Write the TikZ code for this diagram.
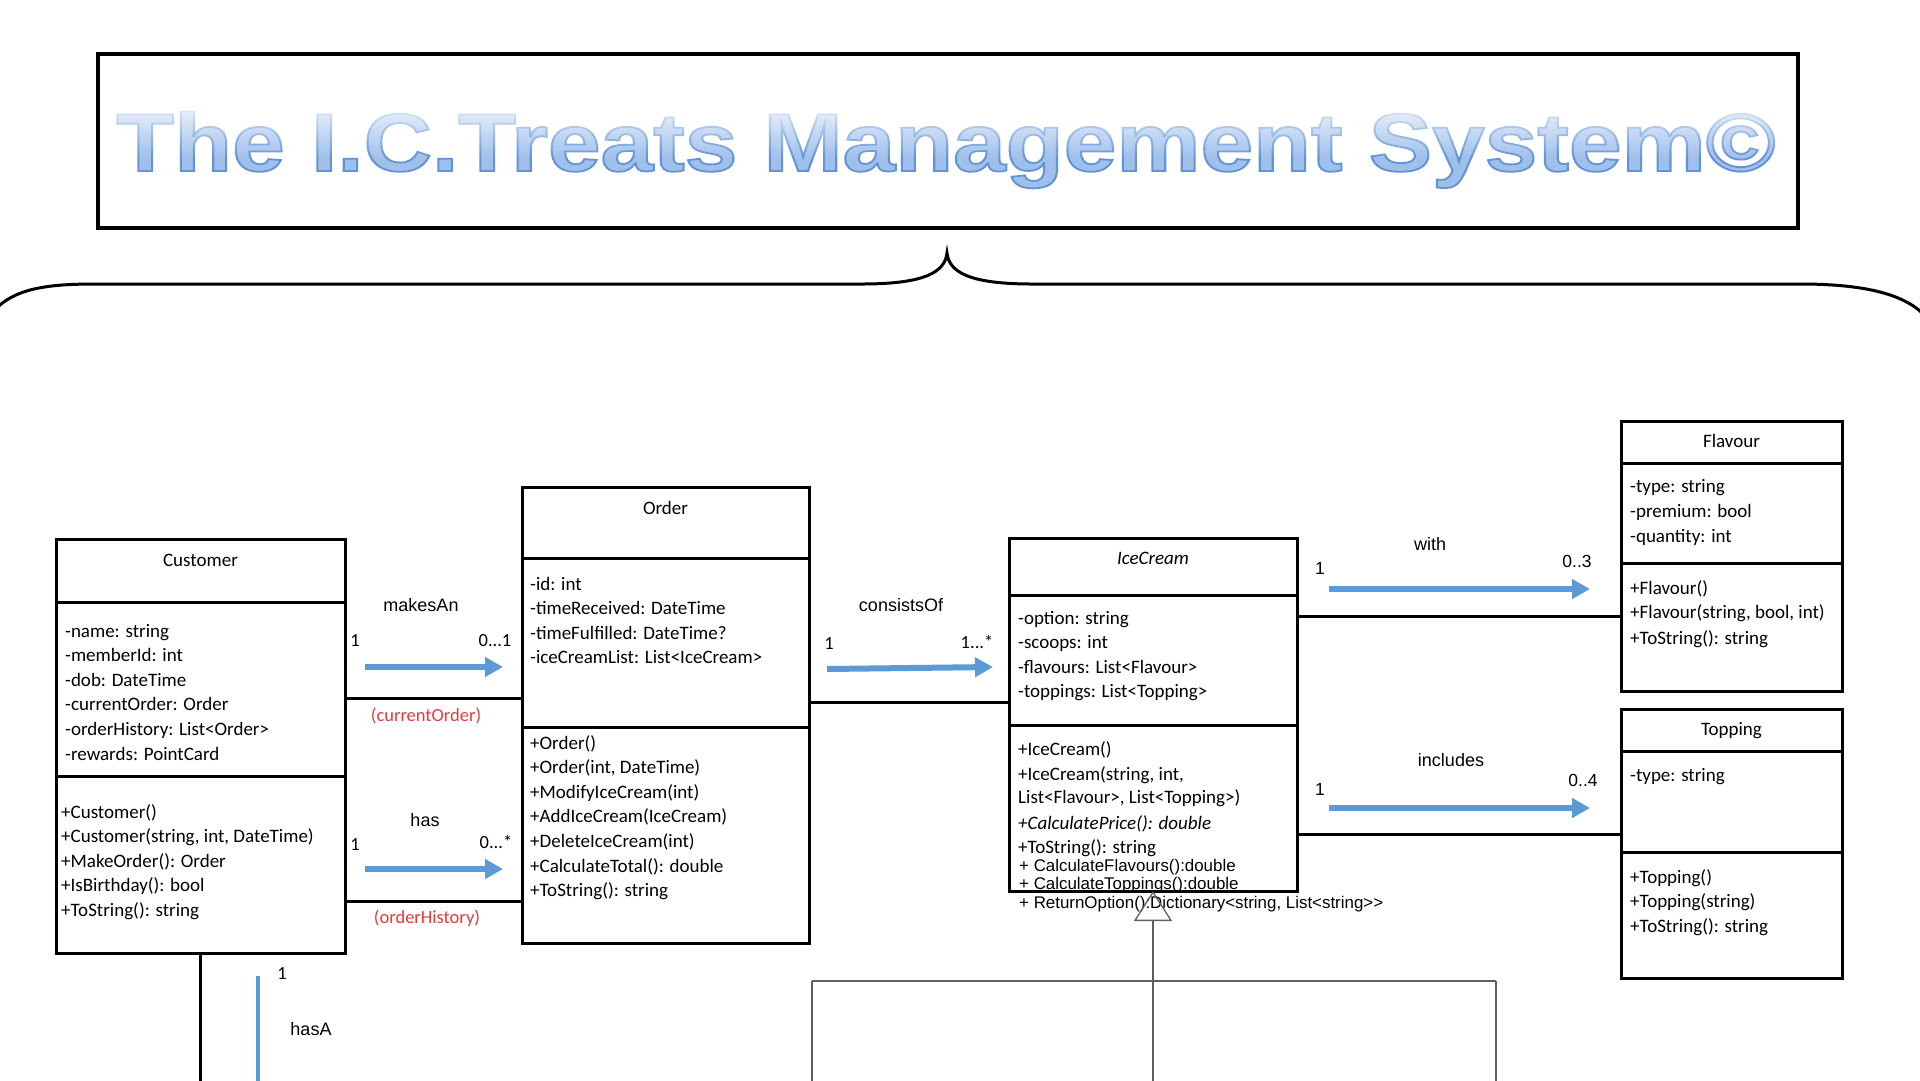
\documentclass[tikz,border=0pt]{standalone}
\usepackage{fontspec}
\usepackage{graphicx}
\setmainfont{Carlito}
\newfontfamily\arialf{Liberation Sans}
\usetikzlibrary{arrows.meta,fadings}
\definecolor{arrblue}{RGB}{91,155,213}
\definecolor{lblred}{RGB}{228,58,58}
\definecolor{tfill}{RGB}{160,192,236}
\definecolor{genc}{RGB}{95,95,95}
\newcommand\titletxt{\scalebox{1.155}[1]{The I.C.Treats Management System©}}
\begin{document}
\begin{tikzpicture}[x=1pt,y=-1pt,
  cls/.style={draw=black,line width=3pt,inner sep=0pt,outer sep=0pt,anchor=north west},
  divider/.style={line width=3pt},
  conn/.style={line width=3pt},
  ln/.style={anchor=base west,inner sep=0pt,font=\fontsize{19}{22}\selectfont},
  clsname/.style={anchor=base,inner sep=0pt,font=\fontsize{19}{22}\selectfont},
  sm/.style={anchor=base west,inner sep=0pt,font=\arialf\fontsize{16.9}{18}\selectfont},
  assoc/.style={line width=6pt,arrblue,-{Triangle[length=18pt,width=19pt]}},
  albl/.style={inner sep=0pt,font=\arialf\fontsize{18}{20}\selectfont,anchor=base},
  mult/.style={inner sep=0pt,font=\fontsize{18.5}{20}\selectfont,anchor=base},
  amult/.style={inner sep=0pt,font=\arialf\fontsize{17.5}{20}\selectfont,anchor=base},
  role/.style={inner sep=0pt,font=\fontsize{18.5}{20}\selectfont,text=lblred,anchor=base},
  titletext/.style={anchor=base,inner sep=0pt,font=\arialf\bfseries\fontsize{82}{90}\selectfont},
  gen/.style={genc,line width=1.3pt}
]
\useasboundingbox (0,0) rectangle (1920,1080);

% ---------- title ----------
\node[draw=black,line width=3.5pt,inner sep=0pt,outer sep=0pt,anchor=north west,
      minimum width=1700pt,minimum height=174pt] (tbox) at (98,54) {};
\node[titletext,text=tfill] (title) at (946,171)
  {\special{pdf:literal direct 2 Tr 1.8 w 0.38 0.58 0.84 RG}\titletxt\special{pdf:literal direct 0 Tr}};
\fill[white,fill opacity=0.85,path fading=south] (104,104) rectangle (1792,158);

% ---------- brace ----------
\draw[line width=3pt,line cap=round]
  (-12,318) .. controls (8,290) and (40,284) .. (95,284) -- (862,284)
  .. controls (925,284) and (945,272) .. (947,253)
  .. controls (949,272) and (969,284) .. (1032,284) -- (1800,284)
  .. controls (1870,284) and (1912,296) .. (1930,322);

% ---------- class boxes ----------
\node[cls,minimum width=289pt,minimum height=414pt] (cust) at (56,539) {};
\draw[divider] (cust.west |- 0,602) -- (cust.east |- 0,602);
\draw[divider] (cust.west |- 0,776) -- (cust.east |- 0,776);
\node[clsname] (custn) at (200.5,566) {Customer};
\foreach \y/\t [count=\k] in {637/{-name: string},661.6/{-memberId: int},686.2/{-dob: DateTime},
  710.8/{-currentOrder: Order},735.4/{-orderHistory: List<Order>},760/{-rewards: PointCard}}{
  \node[ln] (ca\k) at (65,\y) {\t};
}
\foreach \y/\t [count=\k] in {818/{+Customer()},842.6/{+Customer(string, int, DateTime)},
  867.2/{+MakeOrder(): Order},891.8/{+IsBirthday(): bool},916.4/{+ToString(): string}}{
  \node[ln] (cm\k) at (61,\y) {\t};
}

\node[cls,minimum width=287pt,minimum height=456pt] (order) at (522,487) {};
\draw[divider] (order.west |- 0,558) -- (order.east |- 0,558);
\draw[divider] (order.west |- 0,727) -- (order.east |- 0,727);
\node[clsname] (ordern) at (665.5,514) {Order};
\foreach \y/\t [count=\k] in {590/{-id: int},614.6/{-timeReceived: DateTime},
  639.2/{-timeFulfilled: DateTime?},663.8/{-iceCreamList: List<IceCream>}}{
  \node[ln] (oa\k) at (530,\y) {\t};
}
\foreach \y/\t [count=\k] in {749/{+Order()},773.6/{+Order(int, DateTime)},798.2/{+ModifyIceCream(int)},
  822.8/{+AddIceCream(IceCream)},847.4/{+DeleteIceCream(int)},872/{+CalculateTotal(): double},
  896.6/{+ToString(): string}}{
  \node[ln] (om\k) at (530,\y) {\t};
}

\node[cls,minimum width=288pt,minimum height=353pt] (ic) at (1009,538) {};
\draw[divider] (ic.west |- 0,595) -- (ic.east |- 0,595);
\draw[divider] (ic.west |- 0,725) -- (ic.east |- 0,725);
\node[clsname,font=\itshape\fontsize{19}{22}\selectfont] (icn) at (1153,564) {IceCream};
\foreach \y/\t [count=\k] in {624/{-option: string},648.6/{-scoops: int},
  673.2/{-flavours: List<Flavour>},697.8/{-toppings: List<Topping>}}{
  \node[ln] (ia\k) at (1018,\y) {\t};
}
\node[ln] (im1) at (1018,755) {+IceCream()};
\node[ln] (im2) at (1018,780) {+IceCream(string, int,};
\node[ln] (im3) at (1018,803.5) {List<Flavour>, List<Topping>)};
\node[ln,font=\itshape\fontsize{19}{22}\selectfont] (im4) at (1018,829) {+CalculatePrice(): double};
\node[ln] (im5) at (1018,853.5) {+ToString(): string};
\node[sm] (im6) at (1019,871) {+ CalculateFlavours():double};
\node[sm] (im7) at (1019,889.5) {+ CalculateToppings():double};
\node[sm] (im8) at (1019,908) {+ ReturnOption():Dictionary<string, List<string>>};

\node[cls,minimum width=221pt,minimum height=270pt] (flav) at (1621,421) {};
\draw[divider] (flav.west |- 0,463) -- (flav.east |- 0,463);
\draw[divider] (flav.west |- 0,563) -- (flav.east |- 0,563);
\node[clsname] (flavn) at (1731.5,447) {Flavour};
\foreach \y/\t [count=\k] in {492/{-type: string},517/{-premium: bool},542/{-quantity: int}}{
  \node[ln] (fa\k) at (1630,\y) {\t};
}
\foreach \y/\t [count=\k] in {594/{+Flavour()},618.5/{+Flavour(string, bool, int)},644/{+ToString(): string}}{
  \node[ln] (fm\k) at (1630,\y) {\t};
}

\node[cls,minimum width=221pt,minimum height=269pt] (top) at (1621,709) {};
\draw[divider] (top.west |- 0,751) -- (top.east |- 0,751);
\draw[divider] (top.west |- 0,852) -- (top.east |- 0,852);
\node[clsname] (topn) at (1731.5,735) {Topping};
\node[ln] (ta1) at (1630,781) {-type: string};
\foreach \y/\t [count=\k] in {883/{+Topping()},907.5/{+Topping(string)},932/{+ToString(): string}}{
  \node[ln] (tm\k) at (1630,\y) {\t};
}

% ---------- connectors ----------
\draw[conn] (cust.east |- 0,698) -- (order.west |- 0,698);
\draw[conn] (cust.east |- 0,901) -- (order.west |- 0,901);
\draw[conn] (order.east |- 0,702) -- (ic.west |- 0,702);
\draw[conn] (ic.east |- 0,616) -- (flav.west |- 0,616);
\draw[conn] (ic.east |- 0,834) -- (top.west |- 0,834);
\coordinate (custdown) at (200.5,1082);
\draw[conn] (cust.south) -- (custdown);

% ---------- association arrows and labels ----------
\coordinate (a1s) at (365,667); \coordinate (a1e) at (503,667);
\draw[assoc] (a1s) -- (a1e);
\node[albl] (l1) at (421,611) {makesAn};
\node[mult] (m1a) at (355,646) {1};
\node[mult] (m1b) at (495,646) {0...1};
\node[role] (r1) at (426,721) {(currentOrder)};

\coordinate (a2s) at (365,869); \coordinate (a2e) at (503,869);
\draw[assoc] (a2s) -- (a2e);
\node[albl] (l2) at (425,826) {has};
\node[mult] (m2a) at (355,850) {1};
\node[mult] (m2b) at (496,848) {0...*};
\node[role] (r2) at (427,923) {(orderHistory)};

\coordinate (a3s) at (827,669); \coordinate (a3e) at (993,667);
\draw[assoc] (a3s) -- (a3e);
\node[albl] (l3) at (901,611) {consistsOf};
\node[mult] (m3a) at (829,649) {1};
\node[mult] (m3b) at (977,648) {1...*};

\coordinate (a4s) at (1329,589); \coordinate (a4e) at (1590,589);
\draw[assoc] (a4s) -- (a4e);
\node[albl] (l4) at (1430,550) {with};
\node[amult] (m4a) at (1320,574) {1};
\node[amult] (m4b) at (1577,567) {0..3};

\coordinate (a5s) at (1329,808); \coordinate (a5e) at (1590,808);
\draw[assoc] (a5s) -- (a5e);
\node[albl] (l5) at (1451,766) {includes};
\node[amult] (m5a) at (1320,795) {1};
\node[amult] (m5b) at (1583,786) {0..4};

\coordinate (a6s) at (258,976); \coordinate (a6e) at (258,1082);
\draw[line width=4pt,arrblue] (a6s) -- (a6e);
\node[mult] (m6) at (282,979) {1};
\node[albl] (l6) at (311,1035) {hasA};

% ---------- generalisation ----------
\coordinate (gbot) at (1153,1082);
\coordinate (gl) at (812,981); \coordinate (gr) at (1496,981);
\coordinate (glb) at (812,1082); \coordinate (grb) at (1496,1082);
\draw[gen,-{Triangle[open,length=30pt,width=38pt]}] (gbot) -- (ic.south);
\draw[gen] (gl) -- (gr);
\draw[gen] (gl) -- (glb);
\draw[gen] (gr) -- (grb);
\end{tikzpicture}
\end{document}
